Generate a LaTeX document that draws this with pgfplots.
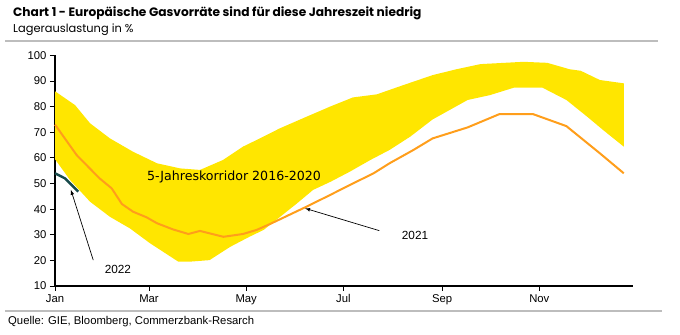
\documentclass[border=0pt]{standalone}
\usepackage{pgfplots}
\pgfplotsset{compat=1.18}
\usepgfplotslibrary{fillbetween}
\usepackage{fontspec}
\setmainfont{Liberation Sans}
\newfontfamily\titlefont{Poppins}
\newfontfamily\dejavu{DejaVu Sans}
\definecolor{bandyellow}{HTML}{FFE600}
\definecolor{line21}{HTML}{FF9E1B}
\definecolor{line22}{HTML}{174A4A}
\definecolor{rulegray}{HTML}{BDBDBD}
\begin{document}
\begin{tikzpicture}
\begin{axis}[
  at={(55bp,49bp)}, anchor=south west,
  scale only axis, width=578.3bp, height=230.6bp,
  xmin=0, xmax=363, ymin=10, ymax=100,
  axis x line*=bottom, axis y line*=left,
  axis line style={-, line width=1.3bp, black},
  xtick={0,59,120,181,243,304},
  xticklabels={Jan,Mar,May,Jul,Sep,Nov},
  ytick={10,20,...,100},
  tick align=outside,
  major tick length=5bp,
  tick style={black, line width=0.9bp},
  tick label style={font=\fontsize{11.3bp}{13bp}\selectfont},
  /pgf/number format/assume math mode=true,
  clip=false,
]
\addplot[name path=upper, draw=none, forget plot] coordinates {
(0,86) (12.6,80.6) (22,73.5) (34.5,67.6) (49,62.4) (64,57.9) (78.5,55.9) (91,55.3)
(105.5,59.2) (118,64.4) (126.6,67.0) (141,71.5) (158,76.1) (172.6,80.0) (187,83.6)
(202,84.8) (218.6,88.4) (237,92.3) (252,94.6) (267,96.6) (294,97.5) (309,97.1) (323,94.6)
(330,94.0) (342,90.4) (357,89.1)};
\addplot[name path=lower, draw=none, forget plot] coordinates {
(0,59.5) (9.4,51.4) (22,42.9) (34.5,37.0) (47,32.5) (59.6,26.7) (77.4,19.5) (84.7,19.5)
(97,20.1) (110,25.3) (122,29.2) (131,31.9) (152,42.3) (162,47.5) (173,50.7) (185,54.6)
(198,59.2) (210,63.1) (223,68.3) (237,75.0) (259,82.6) (273,84.5) (288,87.4) (306,87.4)
(321,82.6) (334,76.1) (344,70.9) (357,64.4)};
\addplot[bandyellow, draw=none] fill between[of=upper and lower];
\addplot[line21, line width=2bp] coordinates {
(0,73) (13.6,61.1) (28,52.0) (35.6,48.1) (42,42.0) (49,39.0) (57.5,36.8) (64,34.5)
(74,32.1) (83.7,30.3) (91,31.5) (105.7,29.2) (118,30.3) (126.6,31.9) (135,34.2)
(158,41.0) (172.6,45.5) (185,49.4) (200,54.0) (210,57.9) (225,63.1) (237,67.6)
(259,71.9) (279,77.1) (300,77.1) (321,72.4) (342,61.8) (357,54.0)};
\addplot[line22, line width=2.4bp] coordinates {
(0,54.0) (6.3,52.0) (10.5,49.4) (14.6,46.8)};
\node[font=\dejavu\fontsize{12.6bp}{14bp}\selectfont] at (axis cs:112.4,52.5) {5-Jahreskorridor 2016-2020};
\draw[-latex, line width=0.7bp] (axis cs:24,20.1) -- (axis cs:10,47.5);
\node[font=\fontsize{11.8bp}{13bp}\selectfont] at (axis cs:39.5,16.6) {2022};
\draw[-latex, line width=0.7bp] (axis cs:203.6,31.6) -- (axis cs:157,40.3);
\node[font=\fontsize{11.8bp}{13bp}\selectfont] at (axis cs:226,29.9) {2021};
\end{axis}
% header
\node[anchor=west,inner sep=0pt] at (13bp,335bp-13.5bp) {\titlefont\fontsize{12.2bp}{14bp}\selectfont\bfseries Chart 1 - Europäische Gasvorräte sind für diese Jahreszeit niedrig};
\node[anchor=west,inner sep=0pt] at (13bp,335bp-30bp) {\titlefont\fontsize{11.4bp}{13bp}\selectfont Lagerauslastung in \%};
\draw[rulegray,line width=1.6bp] (5bp,335bp-41bp) -- (658bp,335bp-41bp);
\draw[rulegray,line width=1.6bp] (5bp,335bp-311bp) -- (662bp,335bp-311bp);
\node[anchor=west,inner sep=0pt] at (8bp,335bp-321.5bp) {\fontsize{11.3bp}{13bp}\selectfont Quelle: GIE, Bloomberg, Commerzbank-Resarch};
\path (0,0) rectangle (680bp,335bp);
\end{tikzpicture}
\end{document}
